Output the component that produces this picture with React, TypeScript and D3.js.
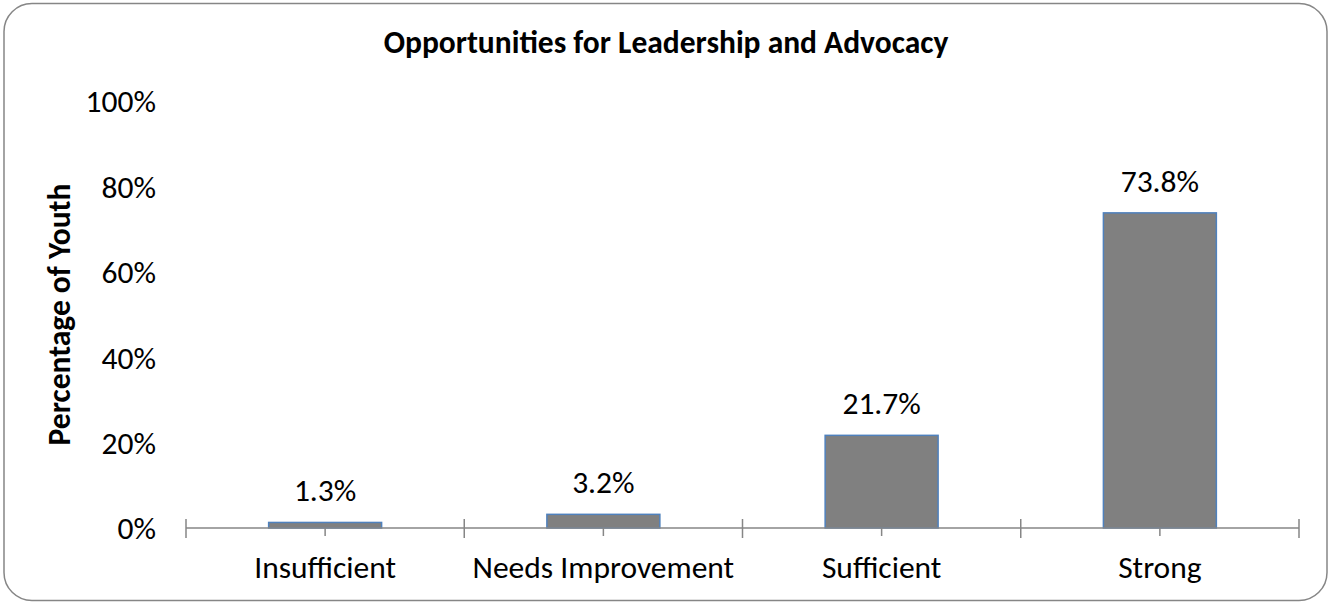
import React from "react";
import * as d3 from "d3";

const categories = ["Insufficient", "Needs Improvement", "Sufficient", "Strong"];
const values = [1.3, 3.2, 21.7, 73.8];
const yTicks = [0, 20, 40, 60, 80, 100];

const W = 1331;
const H = 605;
const FONT = "Carlito, Calibri, 'Open Sans', sans-serif";

const App = () => {
    const x = d3.scaleBand().domain(categories).range([186, 1299]).paddingInner(0.594).paddingOuter(0.297);
    const band = d3.scaleBand().domain(categories).range([186, 1299]);
    const y = d3.scaleLinear().domain([0, 100]).range([528, 101]);
    const baseY = y(0);

    return (
        <svg width={W} height={H} style={{ position: "absolute", left: 0, top: 0, background: "#fff" }}>
            <rect x={4} y={3.5} width={1323} height={597} rx={28} ry={28} fill="#fff" stroke="#868686" strokeWidth={1.5} />
            <text x={666} y={53} textAnchor="middle" fontFamily={FONT} fontWeight="bold" fontSize={31.5} fill="#000">
                Opportunities for Leadership and Advocacy
            </text>
            <text transform={`translate(70,${y(50)}) rotate(-90)`} textAnchor="middle" fontFamily={FONT} fontWeight="bold" fontSize={31.5} fill="#000">
                Percentage of Youth
            </text>

            {yTicks.map(t => (
                <text key={t} x={156} y={y(t)} dy="0.36em" textAnchor="end" fontFamily={FONT} fontSize={31.5} fill="#000">
                    {t}%
                </text>
            ))}

            {categories.map((c, i) => (
                <g key={c}>
                    <rect x={x(c)} y={y(values[i])} width={x.bandwidth()} height={baseY - y(values[i])} fill="#808080" stroke="#4f81bd" strokeWidth={1.5} />
                    <text x={x(c) + x.bandwidth() / 2} y={y(values[i]) - 21} textAnchor="middle" fontFamily={FONT} fontSize={31.5} fill="#000">
                        {values[i].toFixed(1)}%
                    </text>
                    <text x={band(c) + band.bandwidth() / 2} y={578} textAnchor="middle" fontFamily={FONT} fontSize={31.5} fill="#000">
                        {c}
                    </text>
                    <line x1={band(c) + band.bandwidth() / 2} x2={band(c) + band.bandwidth() / 2} y1={baseY} y2={baseY + 8} stroke="#868686" strokeWidth={1.5} />
                </g>
            ))}

            <line x1={186} x2={1299} y1={baseY} y2={baseY} stroke="#868686" strokeWidth={1.5} />
            {[...categories.map(c => band(c)), 1299].map((bx, i) => (
                <line key={i} x1={bx} x2={bx} y1={baseY - 9} y2={baseY + 10} stroke="#868686" strokeWidth={1.5} />
            ))}
        </svg>
    );
};

export default App;
